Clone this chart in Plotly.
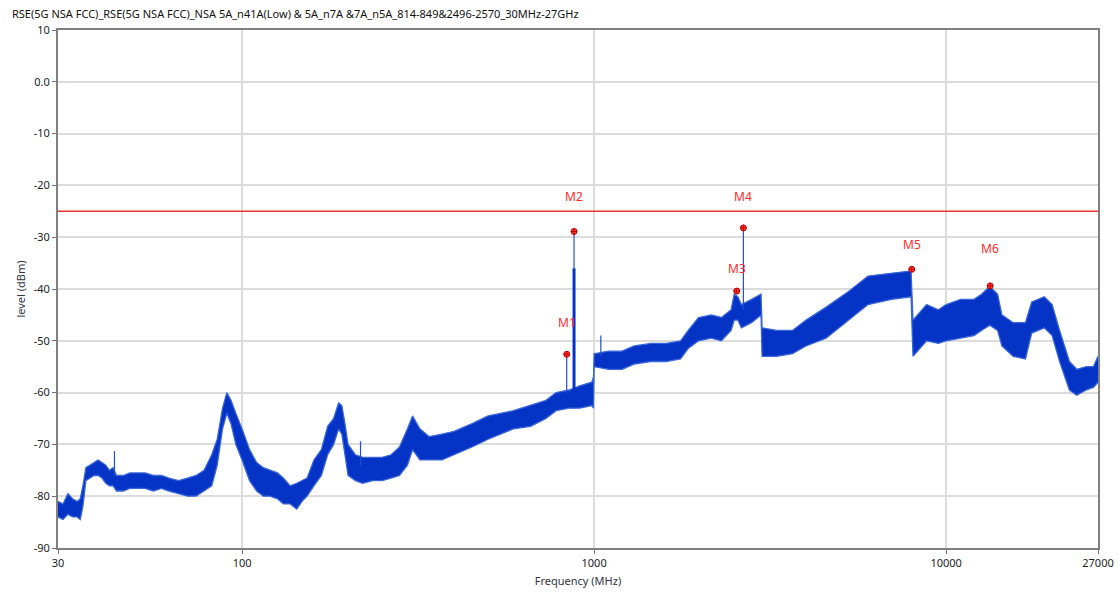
import math
import plotly.graph_objects as go

title_text = "RSE(5G NSA FCC)_RSE(5G NSA FCC)_NSA 5A_n41A(Low) & 5A_n7A &7A_n5A_814-849&2496-2570_30MHz-27GHz"

freq = [30, 31, 32, 33, 34, 34.7, 35.3, 36, 37, 38, 39, 40, 41, 42, 43, 44, 46, 48, 50, 53,
        56, 59, 62, 66, 70, 74, 78, 82, 85, 88, 90.5, 93, 96, 100, 105, 110, 115, 120, 126, 131,
        137, 143, 148, 153, 160, 168, 175, 182, 188, 192, 196, 200, 210, 220, 235, 250, 265, 280, 295, 305,
        320, 340, 370, 400, 450, 500, 590, 660, 730, 780, 850, 910, 985, 996,
        1000, 1100, 1200, 1300, 1450, 1600, 1760, 1850, 1980, 2150, 2300, 2450, 2500, 2560, 2620, 2800, 2980,
        3000, 3300, 3660, 4000, 4560, 5280, 6000, 7000, 7950,
        8050, 8800, 9500, 10000, 11000, 12000, 12600, 13300, 14000, 14400, 15500, 16800, 17500, 19000, 20000,
        21000, 22400, 23500, 25000, 26200, 27000]
low = [-84, -84.5, -83.5, -84, -84, -84.5, -82, -77, -76.5, -76, -76, -76.5, -77.5, -78, -78, -79, -79, -78.5, -78.5, -78.5,
       -79, -78.5, -79, -79.5, -80, -80, -79, -78, -74, -67, -64, -66, -70, -73, -77, -79, -80, -80, -80.5, -81.5,
       -81.5, -82.5, -81, -80, -78, -76, -72, -70, -67, -68, -72, -76, -77, -77.5, -77, -77, -76.5, -76, -74, -71,
       -73, -73, -73, -72, -70.5, -69, -67, -66.5, -65, -63.5, -63, -63, -62.5, -63,
       -55, -55.5, -55.5, -54.5, -54, -54, -53.5, -51.5, -50, -49.5, -50, -48, -46, -46, -47.5, -46.5, -45,
       -53, -53, -52.5, -51, -49.5, -46, -43, -42, -41.5,
       -53, -50, -50.5, -50, -49.5, -49, -48, -47, -48, -51, -53, -53.5, -48.5, -47.5, -49,
       -54, -59.5, -60.5, -59.5, -59, -58]
high = [-81, -81.5, -79.5, -80.5, -81, -80.5, -78, -74.5, -74, -73.5, -73, -73.5, -74, -75, -74.5, -76, -76, -75.5, -75.5, -75.5,
        -76, -76, -76.5, -77, -76.5, -76, -75, -72, -69, -63, -60, -61.5, -64, -67, -71, -73.5, -74.5, -75, -75.5, -76.5,
        -78, -77.5, -77, -76.5, -73, -71, -66.5, -65, -62, -62.5, -66, -70, -72, -72.5, -72.5, -72.5, -72, -70.5, -67, -64.5,
        -67, -68.5, -68, -67.5, -66, -64.5, -63.5, -62.5, -61.5, -60, -59.5, -58.7, -58, -57,
        -52.5, -52, -52, -51, -50.5, -50.5, -50, -48, -45.5, -45, -45.5, -44, -41, -41.5, -43, -42, -41,
        -47.5, -48, -48, -46, -43.5, -40.5, -37.5, -37, -36.5,
        -46, -43, -44, -43, -42, -42, -41, -39.5, -41, -45, -46.5, -46.5, -42.5, -41.5, -43,
        -48, -54, -55.5, -55, -55, -53]

# Narrow spurs on the trace
spike_freq = [43.4, 217, 836, 1045, 2655]
spike_base = [-76, -74, -60, -53, -44]
spike_top = [-71.3, -69.4, -52.6, -49, -28.2]
# Strong spur at M2 (broad part and thin peak)
m2_freq = 877
m2_base = -60
m2_body_top = -36
m2_peak = -28.9

marker_names = ["M1", "M2", "M3", "M4", "M5", "M6"]
marker_freq = [836, 877, 2542, 2655, 7986, 13335]
marker_level = [-52.6, -28.9, -40.4, -28.2, -36.2, -39.4]
label_shift = [32, 35, 23, 31, 25, 37]

limit_level = -25

y_ticks = [10, 0, -10, -20, -30, -40, -50, -60, -70, -80, -90]
y_tick_text = ["10", "0.0", "-10", "-20", "-30", "-40", "-50", "-60", "-70", "-80", "-90"]
x_ticks = [30, 100, 1000, 10000, 27000]
x_tick_text = ["30", "100", "1000", "10000", "27000"]

BLUE = "#0433c6"
EDGE = "#3a66d8"
RED = "#ff2a2a"
FONT = "Noto Sans, Open Sans, sans-serif"

fig = go.Figure()

fig.add_trace(go.Scatter(x=freq, y=low, mode="lines",
                         line=dict(color=EDGE, width=1.3), hoverinfo="skip", showlegend=False))
fig.add_trace(go.Scatter(x=freq, y=high, mode="lines", fill="tonexty", fillcolor=BLUE,
                         line=dict(color=EDGE, width=1.3), hoverinfo="skip", showlegend=False))

sx, sy = [], []
for f, b, t in zip(spike_freq, spike_base, spike_top):
    sx += [f, f, None]
    sy += [b, t, None]
fig.add_trace(go.Scatter(x=sx, y=sy, mode="lines", line=dict(color="#2050d0", width=1.2),
                         hoverinfo="skip", showlegend=False))
fig.add_trace(go.Scatter(x=[m2_freq, m2_freq], y=[m2_base, m2_body_top], mode="lines",
                         line=dict(color=BLUE, width=3), hoverinfo="skip", showlegend=False))
fig.add_trace(go.Scatter(x=[m2_freq, m2_freq], y=[m2_body_top, m2_peak], mode="lines",
                         line=dict(color="#2050d0", width=1.2), hoverinfo="skip", showlegend=False))

# limit line
fig.add_trace(go.Scatter(x=[x_ticks[0], x_ticks[-1]], y=[limit_level, limit_level], mode="lines",
                         line=dict(color="#f03030", width=1.5), hoverinfo="skip", showlegend=False))

fig.add_trace(go.Scatter(x=marker_freq, y=marker_level, mode="markers",
                         marker=dict(symbol="circle-cross", size=6, color="#ff4040",
                                     line=dict(color="#c00000", width=1)),
                         hoverinfo="skip", showlegend=False))

for n, f, lv, sh in zip(marker_names, marker_freq, marker_level, label_shift):
    fig.add_annotation(x=math.log10(f), y=lv, text=n, showarrow=False, yshift=sh,
                       font=dict(family=FONT, size=12, color=RED))

fig.update_layout(
    width=1118, height=596,
    margin=dict(l=58, r=20, t=30, b=48, autoexpand=False),
    paper_bgcolor="white", plot_bgcolor="white",
    font=dict(family=FONT, size=11, color="#222222"),
    title=dict(text=title_text, x=0.0107, xanchor="left", xref="container",
               y=0.977, yanchor="middle", yref="container",
               font=dict(family=FONT, size=11, color="#111111")),
)
fig.update_xaxes(type="log", range=[math.log10(30), math.log10(27000)], automargin=False,
                 tickvals=x_ticks, ticktext=x_tick_text, ticks="outside", ticklen=4, tickcolor="#707070",
                 showgrid=True, gridcolor="#dcdcdc", gridwidth=1.5,
                 showline=True, linecolor="#808080", linewidth=2, mirror=True, zeroline=False,
                 title=dict(text="Frequency (MHz)", standoff=8, font=dict(size=11, color="#333344")))
fig.update_yaxes(range=[-90, 10], tickvals=y_ticks, ticktext=y_tick_text, ticks="outside", ticklen=4,
                 tickcolor="#707070", showgrid=True, gridcolor="#dcdcdc", gridwidth=1.5, automargin=False,
                 showline=True, linecolor="#808080", linewidth=2, mirror=True, zeroline=False,
                 title=dict(text="level (dBm)", standoff=6, font=dict(size=11, color="#333344")))

fig.write_html("out.html", config={"displayModeBar": False},
               post_script="document.body.style.margin='0px';")
